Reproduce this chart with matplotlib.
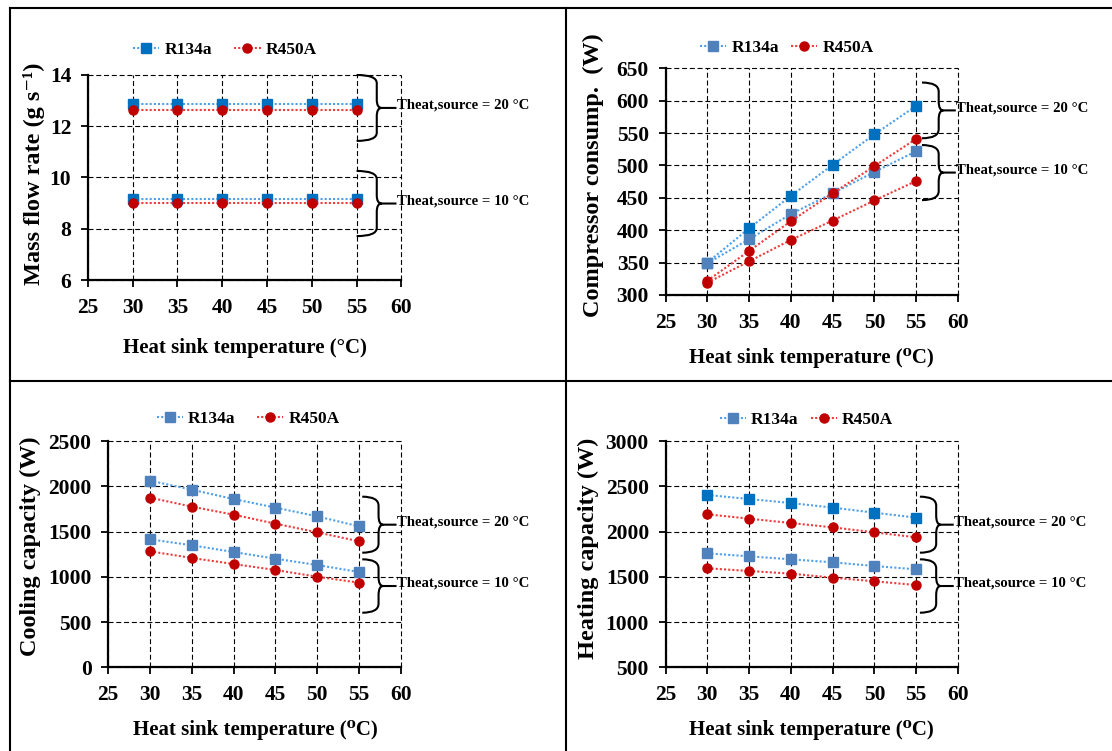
import matplotlib
matplotlib.use('Agg')
import matplotlib.pyplot as plt
from matplotlib.path import Path
from matplotlib.patches import PathPatch
from matplotlib.lines import Line2D

plt.rcParams['font.family'] = ['Liberation Serif', 'DejaVu Serif']
plt.rcParams['font.weight'] = 'bold'
plt.rcParams['mathtext.default'] = 'regular'

W, H = 1112, 751

# ---------------- data ----------------
sink_temp = [30, 35, 40, 45, 50, 55]
x_ticks = [25, 30, 35, 40, 45, 50, 55, 60]
refrigerants = ['R134a', 'R450A']
source_labels = ['Theat,source = 20 °C', 'Theat,source = 10 °C']

mass_r134a_20 = [12.86, 12.86, 12.86, 12.86, 12.86, 12.86]
mass_r450a_20 = [12.61, 12.61, 12.61, 12.61, 12.61, 12.61]
mass_r134a_10 = [9.16, 9.16, 9.16, 9.16, 9.16, 9.16]
mass_r450a_10 = [8.99, 8.99, 8.99, 8.99, 8.99, 8.99]

comp_r134a_20 = [350, 403, 453, 501, 548, 592]
comp_r450a_20 = [322, 368, 414, 457, 499, 541]
comp_r134a_10 = [349, 386, 425, 457, 490, 522]
comp_r450a_10 = [319, 352, 385, 415, 446, 476]

cool_r134a_20 = [2062, 1962, 1859, 1764, 1668, 1557]
cool_r450a_20 = [1874, 1775, 1686, 1587, 1491, 1392]
cool_r134a_10 = [1414, 1348, 1274, 1200, 1130, 1053]
cool_r450a_10 = [1281, 1208, 1141, 1075, 1001, 935]

heat_r134a_20 = [2404, 2359, 2315, 2264, 2208, 2153]
heat_r450a_20 = [2190, 2142, 2094, 2046, 1991, 1936]
heat_r134a_10 = [1759, 1726, 1693, 1660, 1619, 1582]
heat_r450a_10 = [1594, 1564, 1535, 1490, 1450, 1409]

BLUE_DARK = '#0070C0'
BLUE_STEEL = '#4F81BD'
BLUE_LINE = '#4FA0E8'
RED_MARK = '#C00000'
RED_LINE = '#EE3B3B'

panels = [
    dict(box=(87.9, 74.7, 401.4, 280.0), ylim=(6, 14), yticks=[6, 8, 10, 12, 14],
         ylabel='Mass flow rate (g s\u207b\u00b9)', ylab_pos=(34, 173.5),
         xlabel='Heat sink temperature (°C)', xlab_pos=(245, 348),
         series=[(mass_r134a_20, mass_r450a_20), (mass_r134a_10, mass_r450a_10)],
         blues=(BLUE_DARK, BLUE_DARK), legblue=BLUE_DARK,
         brace_x=(55.0, 57.25, 59.45), braces=[(13.99, 11.42), (10.25, 7.71)],
         leg_pos=(225, 50), colsp=1.3),
    dict(box=(665.6, 68.3, 957.9, 295.0), ylim=(300, 650),
         yticks=[300, 350, 400, 450, 500, 550, 600, 650],
         ylabel='Compressor consump.  (W)', ylab_pos=(593.5, 175),
         xlabel='Heat sink temperature (\u2070C)', xlab_pos=(811.8, 358),
         series=[(comp_r134a_20, comp_r450a_20), (comp_r134a_10, comp_r450a_10)],
         blues=(BLUE_DARK, BLUE_STEEL), legblue=BLUE_STEEL,
         brace_x=(55.7, 57.7, 59.75), braces=[(628, 542), (531.5, 446.5)],
         leg_pos=(787, 48), colsp=0.7),
    dict(box=(108.2, 441.0, 400.7, 667.3), ylim=(0, 2500),
         yticks=[0, 500, 1000, 1500, 2000, 2500],
         ylabel='Cooling capacity (W)', ylab_pos=(30, 546.5),
         xlabel='Heat sink temperature (\u2070C)', xlab_pos=(255, 730),
         series=[(cool_r134a_20, cool_r450a_20), (cool_r134a_10, cool_r450a_10)],
         blues=(BLUE_STEEL, BLUE_STEEL), legblue=BLUE_STEEL,
         brace_x=(55.4, 57.35, 59.5), braces=[(1885, 1266), (1193, 603)],
         leg_pos=(248, 419), colsp=1.25),
    dict(box=(665.6, 441.0, 957.9, 667.3), ylim=(500, 3000),
         yticks=[500, 1000, 1500, 2000, 2500, 3000],
         ylabel='Heating capacity (W)', ylab_pos=(588, 548),
         xlabel='Heat sink temperature (\u2070C)', xlab_pos=(811.8, 730),
         series=[(heat_r134a_20, heat_r450a_20), (heat_r134a_10, heat_r450a_10)],
         blues=(BLUE_DARK, BLUE_STEEL), legblue=BLUE_STEEL,
         brace_x=(55.45, 57.4, 59.5), braces=[(2385, 1766), (1693, 1103)],
         leg_pos=(806.5, 420), colsp=0.7),
]

fig = plt.figure(figsize=(W / 100, H / 100), dpi=100)


def draw_brace(ax, x0, xv, xt, ytop, ybot, r, d):
    ym = (ytop + ybot) / 2.0
    verts = [(x0, ytop), (xv, ytop), (xv, ytop - r),
             (xv, ym + r),
             (xv, ym), (xv + d, ym),
             (xt, ym),
             (xv + d, ym), (xv, ym), (xv, ym - r),
             (xv, ybot + r),
             (xv, ybot), (x0, ybot)]
    codes = [Path.MOVETO, Path.CURVE3, Path.CURVE3,
             Path.LINETO,
             Path.CURVE3, Path.CURVE3,
             Path.LINETO,
             Path.MOVETO, Path.CURVE3, Path.CURVE3,
             Path.LINETO,
             Path.CURVE3, Path.CURVE3]
    patch = PathPatch(Path(verts, codes), facecolor='none', edgecolor='black',
                      linewidth=1.5, clip_on=False, zorder=5)
    ax.add_patch(patch)
    return ym


for p in panels:
    l, t, r_, b = p['box']
    ax = fig.add_axes([l / W, 1 - b / H, (r_ - l) / W, (b - t) / H])
    ax.set_xlim(25, 60)
    ax.set_ylim(*p['ylim'])
    ax.set_xticks(x_ticks)
    ax.set_yticks(p['yticks'])
    ax.grid(True, color='black', linestyle=(0, (4.5, 2.5)), linewidth=0.8)
    ax.set_axisbelow(True)
    for gl in ax.get_xgridlines() + ax.get_ygridlines():
        gl.set_clip_on(False)
    for s in ['top', 'right']:
        ax.spines[s].set_visible(False)
    for s in ['left', 'bottom']:
        ax.spines[s].set_linewidth(1.6)
        ax.spines[s].set_zorder(3)
    ax.tick_params(axis='both', direction='out', length=5, width=1.3,
                   labelsize=15.5)
    ax.tick_params(axis='x', pad=8)
    ax.tick_params(axis='y', pad=7)

    for (blue_vals, red_vals), bcol in zip(p['series'], p['blues']):
        ax.plot(sink_temp, blue_vals, linestyle=(0, (1, 1)), linewidth=1.5,
                color=BLUE_LINE, marker='s', markersize=6.5,
                markerfacecolor=bcol, markeredgecolor=bcol, zorder=4)
    for (blue_vals, red_vals), bcol in zip(p['series'], p['blues']):
        ax.plot(sink_temp, red_vals, linestyle=(0, (1, 1)), linewidth=1.5,
                color=RED_LINE, marker='o', markersize=6.5,
                markerfacecolor=RED_MARK, markeredgecolor=RED_MARK, zorder=4)

    yr = p['ylim'][1] - p['ylim'][0]
    x0, xv, xt = p['brace_x']
    for (ytop, ybot), lab in zip(p['braces'], source_labels):
        ym = draw_brace(ax, x0, xv, xt, ytop, ybot, 0.04 * yr, 0.55)
        ax.text(xt + 0.02, ym + 0.012 * yr, lab, fontsize=10.6, ha='left',
                va='center', clip_on=False)

    handles = [Line2D([], [], linestyle=(0, (1, 1)), linewidth=1.5, color=BLUE_LINE,
                      marker='s', markersize=6.5, markerfacecolor=p['legblue'],
                      markeredgecolor=p['legblue']),
               Line2D([], [], linestyle=(0, (1, 1)), linewidth=1.5, color=RED_LINE,
                      marker='o', markersize=6.5, markerfacecolor=RED_MARK,
                      markeredgecolor=RED_MARK)]
    lx, ly = p['leg_pos']
    ax.legend(handles, refrigerants, loc='center', ncol=2, frameon=False,
              fontsize=12.5, handlelength=1.5, handletextpad=0.3,
              columnspacing=p['colsp'], borderpad=0.1,
              bbox_to_anchor=(lx / W, 1 - ly / H), bbox_transform=fig.transFigure)

    fig.text(p['xlab_pos'][0] / W, 1 - p['xlab_pos'][1] / H, p['xlabel'],
             fontsize=15, ha='center', va='center')
    fig.text(p['ylab_pos'][0] / W, 1 - p['ylab_pos'][1] / H, p['ylabel'],
             fontsize=17.5, ha='center', va='center', rotation=90)

# panel frame lines
def fig_line(x1, y1, x2, y2):
    fig.add_artist(Line2D([x1 / W, x2 / W], [1 - y1 / H, 1 - y2 / H],
                          transform=fig.transFigure, color='black', linewidth=1.5))

fig_line(10, 8, W, 8)
fig_line(10, 8, 10, H)
fig_line(566, 8, 566, H)
fig_line(10, 381, W, 381)

fig.savefig('out.png', dpi=100)
